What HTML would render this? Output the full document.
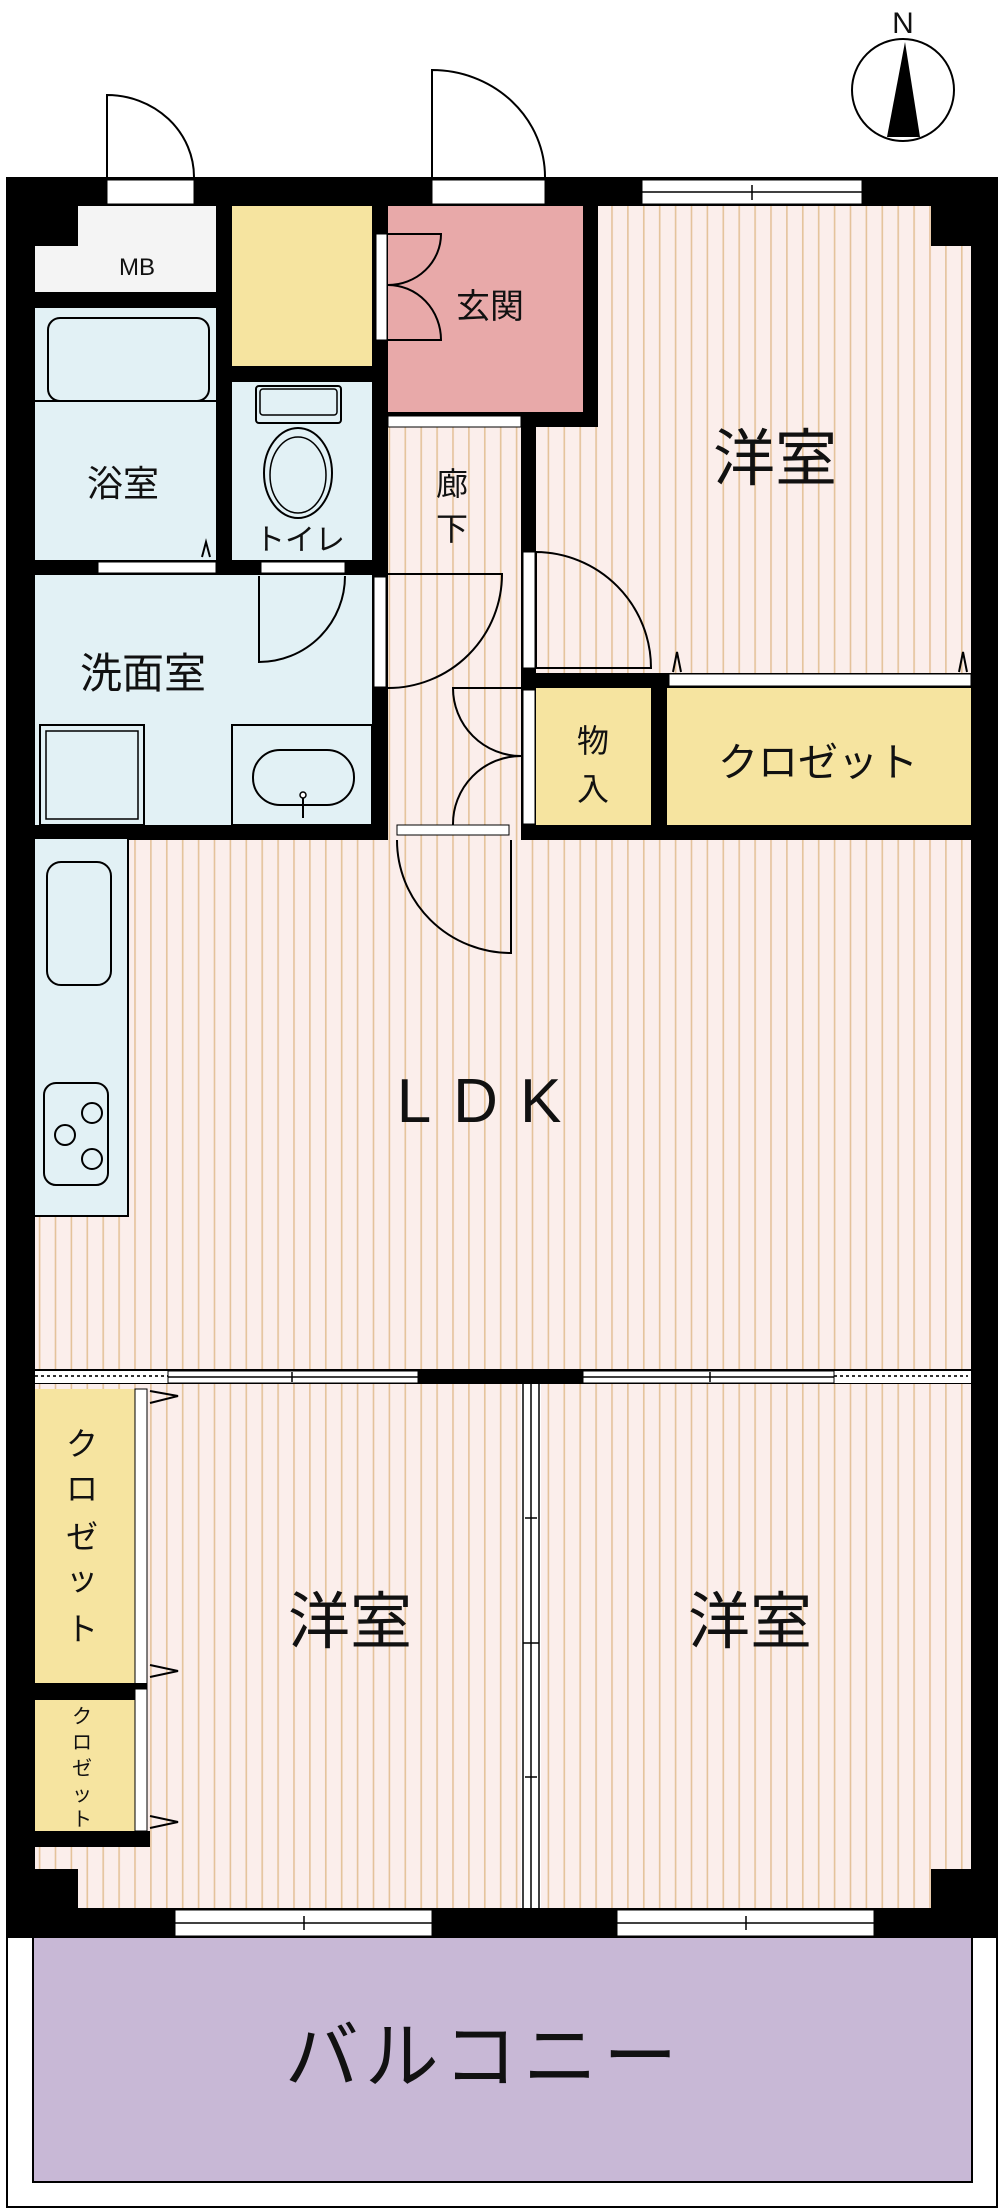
<!DOCTYPE html>
<html><head><meta charset="utf-8"><style>
html,body{margin:0;padding:0;background:#fff}
svg{display:block}
text{font-family:"Liberation Sans","Noto Sans CJK JP",sans-serif;fill:#111}
</style></head><body>
<svg width="1000" height="2210" viewBox="0 0 1000 2210" xmlns="http://www.w3.org/2000/svg">
<defs>
<pattern id="fl" width="15.9" height="20" patternUnits="userSpaceOnUse">
<rect width="15.9" height="20" fill="#fbeeeb"/><rect x="7" width="1.6" height="20" fill="#e4c29a"/>
</pattern>
</defs>
<rect x="6" y="177" width="992" height="1760" fill="#000"/>
<rect x="35" y="206" width="181" height="86" fill="#f4f4f4"/>
<rect x="35" y="206" width="43" height="40" fill="#000"/>
<rect x="232" y="206" width="140" height="160" fill="#f6e4a0"/>
<rect x="388" y="206" width="195" height="206" fill="#e8a9a9"/>
<rect x="598" y="206" width="373" height="467" fill="url(#fl)"/>
<rect x="931" y="206" width="40" height="40" fill="#000"/>
<rect x="536" y="427" width="62" height="246" fill="url(#fl)"/>
<rect x="35" y="308" width="181" height="252" fill="#e2f1f5"/>
<line x1="35" y1="401" x2="216" y2="401" stroke="#000" stroke-width="2"/>
<rect x="48" y="318" width="161" height="83" rx="12" fill="#e2f1f5" stroke="#000" stroke-width="2"/>
<rect x="232" y="382" width="140" height="178" fill="#e2f1f5"/>
<rect x="256" y="386" width="85" height="37" rx="3" fill="#e2f1f5" stroke="#000" stroke-width="2"/>
<rect x="260" y="389" width="77" height="26" rx="3" fill="none" stroke="#000" stroke-width="1.5"/>
<ellipse cx="298" cy="473" rx="34" ry="45" fill="#e2f1f5" stroke="#000" stroke-width="2"/>
<ellipse cx="298" cy="475" rx="28" ry="38" fill="none" stroke="#000" stroke-width="1.5"/>
<rect x="388" y="427" width="133" height="544" fill="url(#fl)"/>
<rect x="388" y="416" width="133" height="11" fill="#fff" stroke="#000" stroke-width="1"/>
<rect x="35" y="575" width="337" height="250" fill="#e2f1f5"/>
<rect x="40" y="725" width="104" height="100" fill="#e2f1f5" stroke="#000" stroke-width="2"/>
<rect x="46" y="731" width="92" height="88" fill="none" stroke="#000" stroke-width="1.5"/>
<rect x="232" y="725" width="140" height="100" fill="#e2f1f5" stroke="#000" stroke-width="2"/>
<rect x="253" y="750" width="101" height="55" rx="27" fill="#e2f1f5" stroke="#000" stroke-width="2"/>
<line x1="303" y1="795" x2="303" y2="818" stroke="#000" stroke-width="2"/><circle cx="303" cy="795" r="3" fill="#fff" stroke="#000" stroke-width="1.5"/>
<rect x="536" y="688" width="115" height="137" fill="#f6e4a0"/>
<rect x="667" y="688" width="304" height="137" fill="#f6e4a0"/>
<rect x="669" y="674" width="302" height="12" fill="#fff" stroke="#000" stroke-width="1"/>
<rect x="98" y="562" width="118" height="11" fill="#fff" stroke="#000" stroke-width="1"/>
<rect x="261" y="562" width="84" height="11" fill="#fff" stroke="#000" stroke-width="1"/>
<rect x="374" y="577" width="12" height="110" fill="#fff" stroke="#000" stroke-width="1"/>
<rect x="523" y="552" width="12" height="116" fill="#fff" stroke="#000" stroke-width="1"/>
<rect x="523" y="690" width="12" height="134" fill="#fff" stroke="#000" stroke-width="1"/>
<rect x="376" y="234" width="11" height="106" fill="#fff" stroke="#000" stroke-width="1"/>
<rect x="107" y="180" width="87" height="24" fill="#fff" stroke="#000" stroke-width="1"/>
<rect x="432" y="180" width="113" height="24" fill="#fff" stroke="#000" stroke-width="1"/>
<rect x="642" y="180" width="220" height="24" fill="#fff" stroke="#000" stroke-width="1"/>
<line x1="642" y1="192" x2="862" y2="192" stroke="#000" stroke-width="1.5"/><line x1="752" y1="185" x2="752" y2="200" stroke="#000" stroke-width="1.5"/>
<!-- LDK -->
<rect x="35" y="840" width="936" height="529" fill="url(#fl)"/>
<rect x="397" y="825" width="112" height="10" fill="#fff" stroke="#000" stroke-width="1"/>
<rect x="34" y="838" width="94" height="378" fill="#e2f1f5" stroke="#000" stroke-width="2"/>
<rect x="47" y="862" width="64" height="123" rx="14" fill="#e2f1f5" stroke="#000" stroke-width="2"/>
<rect x="44" y="1083" width="64" height="102" rx="12" fill="#e2f1f5" stroke="#000" stroke-width="2"/>
<g fill="none" stroke="#000" stroke-width="2"><circle cx="92" cy="1113" r="10"/><circle cx="65" cy="1135" r="10"/><circle cx="92" cy="1159" r="10"/></g>
<g fill="none" stroke="#000" stroke-width="2">
<path d="M107 177 V95 A87 82 0 0 1 194 177"/>
<path d="M432 177 V70 A113 107 0 0 1 545 177"/>
<path d="M388 234 H441 A53 51 0 0 1 388 285 A53 55 0 0 1 441 340 H388"/>
<path d="M259 576 V662 A86 86 0 0 0 345 576"/>
<path d="M388 574 H502 A114 114 0 0 1 388 688"/>
<path d="M536 668 V552 A116 116 0 0 1 651 668 H536"/>
<path d="M521 688 H453 A68 68 0 0 0 521 756 A68 68 0 0 0 453 825"/>
<path d="M511 840 V953 A114 113 0 0 1 397 840"/>
<path d="M202 557 L206 542 L210 557"/>
<path d="M673 672 L677 652 L681 672"/>
<path d="M959 672 L963 652 L967 672"/>
</g>
<!-- LDK bottom wall windows -->
<rect x="35" y="1371" width="133" height="12" fill="#fff"/>
<rect x="834" y="1371" width="137" height="12" fill="#fff"/>
<line x1="35" y1="1376" x2="168" y2="1376" stroke="#333" stroke-width="2" stroke-dasharray="3 3"/>
<line x1="834" y1="1376" x2="968" y2="1376" stroke="#333" stroke-width="2" stroke-dasharray="3 3"/>
<rect x="168" y="1371" width="250" height="12" fill="#fff" stroke="#000" stroke-width="1"/>
<rect x="583" y="1371" width="251" height="12" fill="#fff" stroke="#000" stroke-width="1"/>
<line x1="168" y1="1377" x2="418" y2="1377" stroke="#000" stroke-width="1.5"/>
<line x1="583" y1="1377" x2="834" y2="1377" stroke="#000" stroke-width="1.5"/>
<line x1="292" y1="1372" x2="292" y2="1382" stroke="#000" stroke-width="1.5"/>
<line x1="710" y1="1372" x2="710" y2="1382" stroke="#000" stroke-width="1.5"/>
<!-- bottom rooms -->
<rect x="35" y="1384" width="486" height="524" fill="url(#fl)"/>
<rect x="541" y="1384" width="430" height="524" fill="url(#fl)"/>
<rect x="521" y="1384" width="20" height="524" fill="#fff"/>
<g stroke="#000" stroke-width="1.5"><line x1="523" y1="1384" x2="523" y2="1908"/><line x1="531" y1="1384" x2="531" y2="1908"/><line x1="539" y1="1384" x2="539" y2="1908"/>
<line x1="525" y1="1518" x2="537" y2="1518"/><line x1="525" y1="1777" x2="537" y2="1777"/><line x1="523" y1="1643" x2="539" y2="1643"/></g>
<rect x="35" y="1389" width="100" height="294" fill="#f6e4a0"/>
<rect x="35" y="1700" width="100" height="131" fill="#f6e4a0"/>
<rect x="35" y="1831" width="115" height="16" fill="#000"/>
<rect x="135" y="1389" width="12" height="442" fill="#fff" stroke="#000" stroke-width="1"/>
<rect x="35" y="1683" width="112" height="17" fill="#000"/>
<rect x="135" y="1689" width="12" height="142" fill="#fff" stroke="#000" stroke-width="1"/>
<g fill="none" stroke="#000" stroke-width="2">
<path d="M150 1391 L178 1396 L150 1403"/><path d="M150 1665 L178 1671 L150 1677"/><path d="M150 1816 L178 1822 L150 1828"/></g>
<rect x="35" y="1869" width="43" height="39" fill="#000"/>
<rect x="931" y="1869" width="40" height="39" fill="#000"/>
<rect x="175" y="1910" width="257" height="26" fill="#fff" stroke="#000" stroke-width="1"/>
<rect x="617" y="1910" width="257" height="26" fill="#fff" stroke="#000" stroke-width="1"/>
<line x1="175" y1="1923" x2="432" y2="1923" stroke="#000" stroke-width="1.5"/>
<line x1="617" y1="1923" x2="874" y2="1923" stroke="#000" stroke-width="1.5"/>
<line x1="304" y1="1916" x2="304" y2="1930" stroke="#000" stroke-width="1.5"/>
<line x1="746" y1="1916" x2="746" y2="1930" stroke="#000" stroke-width="1.5"/>
<rect x="7" y="1937" width="990" height="270" fill="#fff" stroke="#000" stroke-width="2"/>
<rect x="33" y="1937" width="939" height="245" fill="#c8b8d6" stroke="#000" stroke-width="2"/>
<circle cx="903" cy="90" r="51" fill="#fff" stroke="#000" stroke-width="2"/>
<path d="M905 42 L920 137 H887 Z" fill="#000"/>
<text x="903" y="33" font-size="30" text-anchor="middle">N</text>
<text x="137" y="275" font-size="24" text-anchor="middle">MB</text>
<text x="490" y="318" font-size="34" text-anchor="middle">玄関</text>
<text x="775" y="480" font-size="62" text-anchor="middle">洋室</text>
<text x="123" y="496" font-size="36" text-anchor="middle">浴室</text>
<text x="300" y="550" font-size="30" text-anchor="middle">トイレ</text>
<text x="452" y="495" font-size="32" text-anchor="middle">廊</text>
<text x="452" y="540" font-size="32" text-anchor="middle">下</text>
<text x="143" y="688" font-size="42" text-anchor="middle">洗面室</text>
<text x="593" y="752" font-size="32" text-anchor="middle">物</text>
<text x="593" y="800" font-size="32" text-anchor="middle">入</text>
<text x="818" y="776" font-size="40" text-anchor="middle">クロゼット</text>
<text x="490" y="1122" font-size="62" text-anchor="middle" letter-spacing="22">LDK</text>
<text x="350" y="1643" font-size="62" text-anchor="middle">洋室</text>
<text x="750" y="1643" font-size="62" text-anchor="middle">洋室</text>
<g font-size="32" text-anchor="middle"><text x="82" y="1455">ク</text><text x="82" y="1500">ロ</text><text x="82" y="1548">ゼ</text><text x="82" y="1590">ッ</text><text x="82" y="1640">ト</text></g>
<g font-size="20" text-anchor="middle"><text x="82" y="1723">ク</text><text x="82" y="1749">ロ</text><text x="82" y="1775">ゼ</text><text x="82" y="1801">ッ</text><text x="82" y="1826">ト</text></g>
<text x="484" y="2082" font-size="74" text-anchor="middle" letter-spacing="6">バルコニー</text>
</svg>
</body></html>
